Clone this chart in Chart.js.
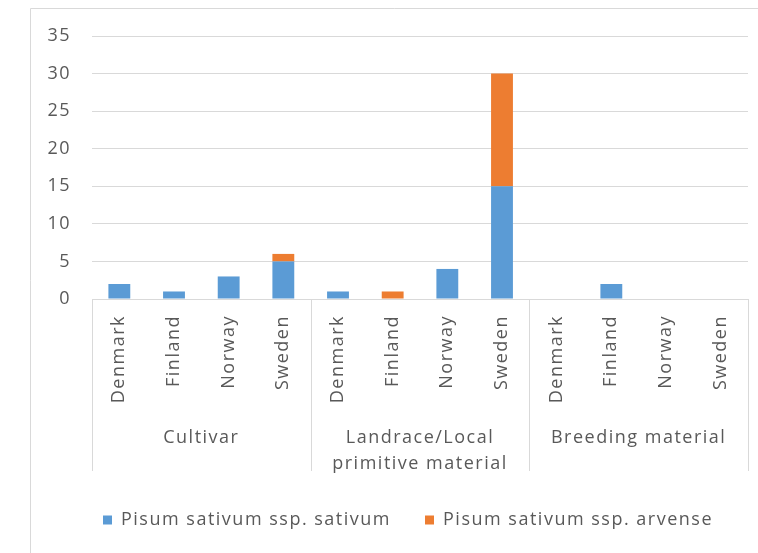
<!DOCTYPE html>
<html>
<head>
<meta charset="utf-8">
<script src="https://cdn.jsdelivr.net/npm/chart.js@4/dist/chart.umd.min.js"></script>
<style>
  html, body { margin: 0; padding: 0; background: #fff; }
  #wrap { width: 758px; height: 553px; position: relative; }
</style>
</head>
<body>
<div id="wrap"><canvas id="pea-chart"></canvas></div>
<script>
// Pea accessions by material type and country, stacked by subspecies.
var COUNTRIES = ['Denmark', 'Finland', 'Norway', 'Sweden',
                 'Denmark', 'Finland', 'Norway', 'Sweden',
                 'Denmark', 'Finland', 'Norway', 'Sweden'];
var GROUPS = [['Cultivar'], ['Landrace/Local', 'primitive material'], ['Breeding material']];
var SATIVUM = [2, 1, 3, 5, 1, 0, 4, 15, 0, 2, 0, 0];
var ARVENSE = [0, 0, 0, 1, 0, 1, 0, 15, 0, 0, 0, 0];
var Y_TICKS = [0, 5, 10, 15, 20, 25, 30, 35];

(function() {
  var FONT = '"Open Sans", "Noto Sans", sans-serif';
  var GREY = '#595959';
  var LINE = '#d9d9d9';
  var SPACING = '1.5px';
  var LEGEND_LEFT = 68;   // legend is centred in the frame, not the canvas

  // frame + grouped category axis drawn on top of the library's x scale
  var groupAxis = {
    id: 'groupAxis',
    beforeLayout: function(chart) { chart.ctx.letterSpacing = SPACING; },
    afterLayout: function(chart) {
      if (chart.legend) chart.legend.left = LEGEND_LEFT;
    },
    beforeDraw: function(chart) {
      var ctx = chart.ctx;
      ctx.letterSpacing = SPACING;
      ctx.save();
      ctx.strokeStyle = LINE;
      ctx.lineWidth = 1;
      ctx.beginPath();
      ctx.moveTo(30.5, chart.height);
      ctx.lineTo(30.5, 8.5);
      ctx.lineTo(chart.width, 8.5);
      ctx.stroke();
      ctx.restore();
    },
    afterDraw: function(chart) {
      var x = chart.scales.x, ctx = chart.ctx;
      var per = COUNTRIES.length / GROUPS.length;
      var half = (x.getPixelForTick(1) - x.getPixelForTick(0)) / 2;
      ctx.save();
      ctx.strokeStyle = LINE;
      ctx.lineWidth = 1;
      for (var g = 0; g <= GROUPS.length; g++) {
        var idx = Math.min(g * per, COUNTRIES.length - 1);
        var px = g * per < COUNTRIES.length ? x.getPixelForTick(idx) - half : x.getPixelForTick(idx) + half;
        px = Math.round(px) + 0.5;
        ctx.beginPath();
        ctx.moveTo(px, x.top);
        ctx.lineTo(px, x.top + 172);
        ctx.stroke();
      }
      ctx.fillStyle = GREY;
      ctx.font = '18px ' + FONT;
      ctx.textAlign = 'center';
      ctx.textBaseline = 'middle';
      GROUPS.forEach(function(lines, g) {
        var cx = (x.getPixelForTick(g * per) + x.getPixelForTick(g * per + per - 1)) / 2;
        lines.forEach(function(t, i) {
          ctx.fillText(t, cx, x.top + 139 + i * 26);
        });
      });
      ctx.restore();
    }
  };

  new Chart(document.getElementById('pea-chart'), {
    type: 'bar',
    data: {
      labels: COUNTRIES,
      datasets: [
        { label: 'Pisum sativum ssp. sativum', data: SATIVUM, backgroundColor: '#5b9bd5', barPercentage: 0.8, categoryPercentage: 0.5 },
        { label: 'Pisum sativum ssp. arvense', data: ARVENSE, backgroundColor: '#ed7d31', barPercentage: 0.8, categoryPercentage: 0.5 }
      ]
    },
    options: {
      responsive: true,
      maintainAspectRatio: false,
      animation: false,
      layout: { padding: { left: 0, right: 10, top: 36, bottom: 14 } },
      plugins: {
        legend: {
          position: 'bottom',
          labels: {
            font: { size: 18, family: FONT }, color: GREY,
            boxWidth: 9, boxHeight: 9, padding: 34
          }
        },
        tooltip: { enabled: false }
      },
      scales: {
        x: {
          stacked: true,
          grid: { display: false },
          border: { color: LINE },
          ticks: {
            font: { size: 18, family: FONT }, color: GREY,
            minRotation: 90, maxRotation: 90, autoSkip: false, padding: 8
          },
          afterFit: function(s) { s.height = 178; }
        },
        y: {
          stacked: true,
          min: 0, max: 35,
          afterBuildTicks: function(s) { s.ticks = Y_TICKS.map(function(v) { return { value: v }; }); },
          grid: { color: LINE, drawTicks: false },
          border: { display: false },
          ticks: { font: { size: 18, family: FONT }, color: GREY, padding: 21 },
          afterFit: function(s) { s.width = 92; }
        }
      }
    },
    plugins: [groupAxis]
  });
})();
</script>
</body>
</html>
